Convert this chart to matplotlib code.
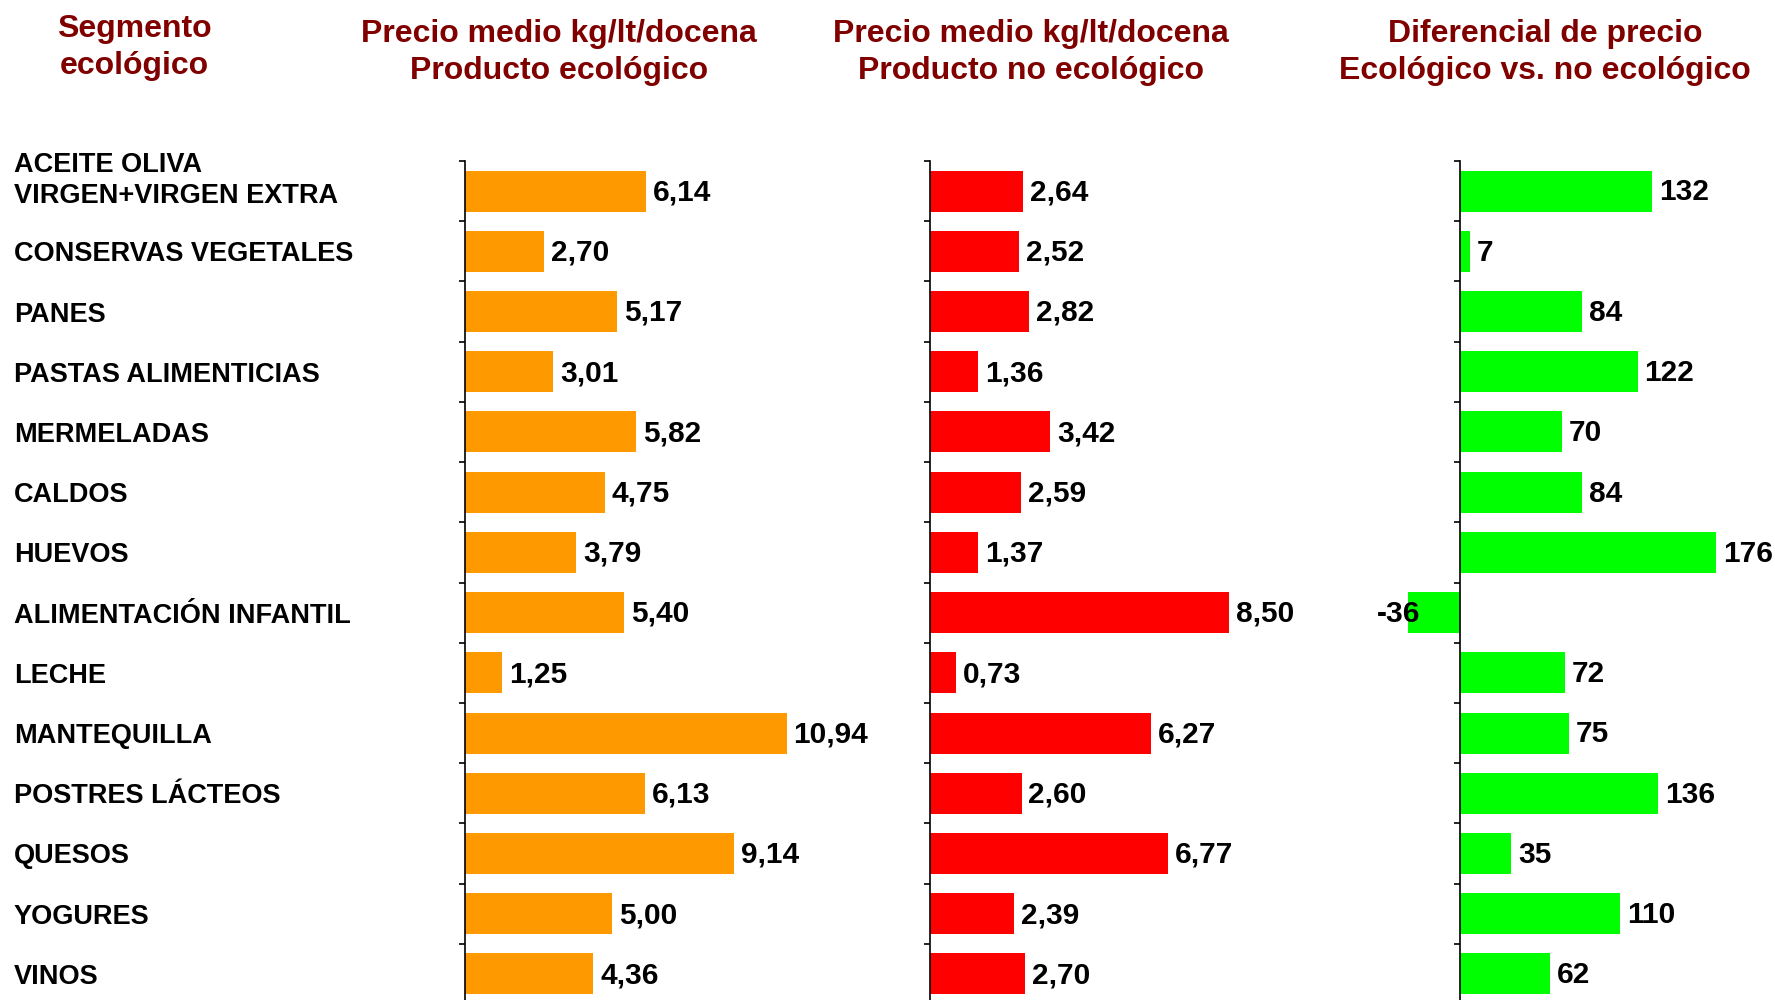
import matplotlib
matplotlib.use("Agg")
import matplotlib.pyplot as plt
from matplotlib.ticker import FixedLocator, NullFormatter

categories = ["ACEITE OLIVA\nVIRGEN+VIRGEN EXTRA", "CONSERVAS VEGETALES", "PANES",
              "PASTAS ALIMENTICIAS", "MERMELADAS", "CALDOS", "HUEVOS",
              "ALIMENTACIÓN INFANTIL", "LECHE", "MANTEQUILLA", "POSTRES LÁCTEOS",
              "QUESOS", "YOGURES", "VINOS"]
eco_price = [6.14, 2.70, 5.17, 3.01, 5.82, 4.75, 3.79, 5.40, 1.25, 10.94, 6.13, 9.14, 5.00, 4.36]
noneco_price = [2.64, 2.52, 2.82, 1.36, 3.42, 2.59, 1.37, 8.50, 0.73, 6.27, 2.60, 6.77, 2.39, 2.70]
diff_pct = [132, 7, 84, 122, 70, 84, 176, -36, 72, 75, 136, 35, 110, 62]

titles = ["Segmento\necológico",
          "Precio medio kg/lt/docena\nProducto ecológico",
          "Precio medio kg/lt/docena\nProducto no ecológico",
          "Diferencial de precio\nEcológico vs. no ecológico"]

FONT = "Liberation Sans"
TITLE_COLOR = "#800000"
W, H = 1775, 1000
fig = plt.figure(figsize=(W / 100, H / 100), dpi=100)

top_px, bot_px = 161, 1004
n = len(categories)
LBL = 21.5

def make_ax(x0, x1):
    return fig.add_axes([x0 / W, 1 - bot_px / H, (x1 - x0) / W, (bot_px - top_px) / H])

def fmt_es(v):
    return f"{v:.2f}".replace(".", ",")

def style(ax):
    ax.set_ylim(n - 0.5, -0.5)
    for s in ["top", "right", "bottom"]:
        ax.spines[s].set_visible(False)
    ax.spines["left"].set_linewidth(1.2)
    ax.set_xticks([])
    ax.yaxis.set_major_locator(FixedLocator([i - 0.5 for i in range(n + 1)]))
    ax.yaxis.set_major_formatter(NullFormatter())
    ax.tick_params(axis="y", direction="out", length=4, width=1.2, color="black")
    ax.patch.set_alpha(0)

ypos = list(range(n))
bh = 0.68

# Orange: ecological price
ax1 = make_ax(465, 870)
ax1.set_xlim(0, 405 / 29.4)
ax1.barh(ypos, eco_price, height=bh, color="#FF9900")
style(ax1)
for y, v in zip(ypos, eco_price):
    ax1.annotate(fmt_es(v), (v, y), xytext=(5, -1), textcoords="offset points",
                 va="center", ha="left", fontsize=LBL, fontweight="bold", family=FONT)

# Red: non ecological price
ax2 = make_ax(930, 1340)
ax2.set_xlim(0, 410 / 35.2)
ax2.barh(ypos, noneco_price, height=bh, color="#FF0000")
style(ax2)
for y, v in zip(ypos, noneco_price):
    ax2.annotate(fmt_es(v), (v, y), xytext=(5, -1), textcoords="offset points",
                 va="center", ha="left", fontsize=LBL, fontweight="bold", family=FONT)

# Green: difference
scale3 = 1.455
ax3 = make_ax(1360, 1775)
ax3.set_xlim(-100 / scale3, 315 / scale3)
ax3.barh(ypos, diff_pct, height=bh, color="#00FF00")
style(ax3)
ax3.spines["left"].set_position(("data", 0))
ax3.set_zorder(1)
for y, v in zip(ypos, diff_pct):
    if v >= 0:
        ax3.annotate(str(v), (v, y), xytext=(5, -1), textcoords="offset points",
                     va="center", ha="left", fontsize=LBL, fontweight="bold", family=FONT)
    else:
        ax3.annotate(str(v), (v, y), xytext=(9, -1), textcoords="offset points",
                     va="center", ha="right", fontsize=LBL, fontweight="bold", family=FONT)

# Category labels
for y, c in zip(ypos, categories):
    yc = top_px + (y + 0.5) * (bot_px - top_px) / n
    if "\n" in c:
        yc -= 11
    else:
        yc += 3
    fig.text(14 / W, 1 - yc / H, c, ha="left", va="center", fontsize=19.5,
             fontweight="bold", family=FONT, linespacing=1.25)

# Titles
title_x = [134, 559, 1031, 1545]
title_y = [47.5, 52.5, 52.5, 52.5]
for t, x, y in zip(titles, title_x, title_y):
    fig.text(x / W, 1 - y / H, t, ha="center", va="center", fontsize=23,
             fontweight="bold", family=FONT, color=TITLE_COLOR, linespacing=1.31)

fig.savefig("out.png", dpi=100, facecolor="white")
